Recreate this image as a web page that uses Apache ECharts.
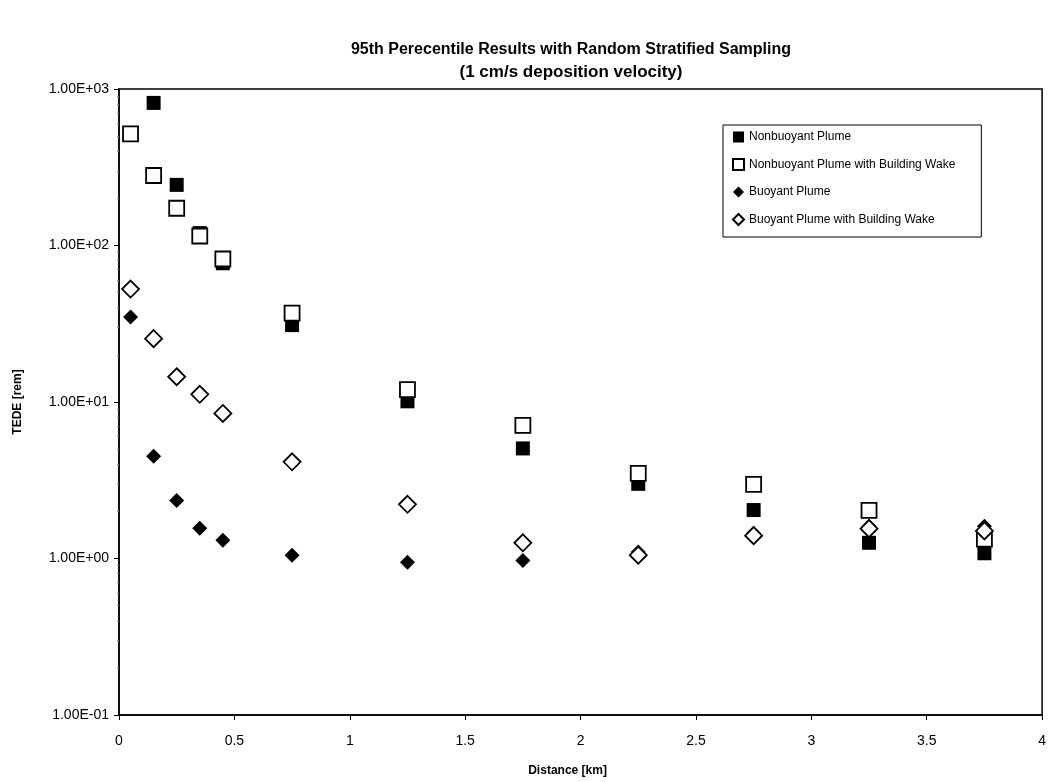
<!DOCTYPE html>
<html>
<head>
<meta charset="utf-8">
<script src="https://cdn.jsdelivr.net/npm/echarts@6/dist/echarts.min.js"></script>
<style>
html,body{margin:0;padding:0;background:#fff;}
#chart{width:1049px;height:782px;}
</style>
</head>
<body>
<div id="chart"></div>
<script>
// distances [km]
var distances = [0.05, 0.15, 0.25, 0.35, 0.45, 0.75, 1.25, 1.75, 2.25, 2.75, 3.25, 3.75];
// TEDE [rem] per series
var nonbuoyant      = [null, 815, 244, 120, 77, 31, 10.1, 5.05, 3.0, 2.04, 1.26, 1.08];
var nonbuoyantWake  = [516, 280, 173, 115, 82, 37, 12.0, 7.1, 3.5, 2.98, 2.03, 1.33];
var buoyant         = [34.9, 4.5, 2.35, 1.56, 1.31, 1.05, 0.946, 0.97, 1.1, 1.45, 1.61, 1.61];
var buoyantWake     = [52.7, 25.4, 14.5, 11.2, 8.45, 4.15, 2.22, 1.26, 1.05, 1.4, 1.55, 1.5];
var seriesNames = ['Nonbuoyant Plume', 'Nonbuoyant Plume with Building Wake', 'Buoyant Plume', 'Buoyant Plume with Building Wake'];

function pairs(vals){
	var out = [];
	for(var i=0;i<distances.length;i++){
		if(vals[i] != null) out.push([distances[i], vals[i]]);
	}
	return out;
}

// 1000 -> 1.00E+03
function expLabel(v){
	var e = Math.round(Math.log10(v));
	var m = v / Math.pow(10, e);
	var s = e < 0 ? '-' : '+';
	var a = Math.abs(e);
	return m.toFixed(2) + 'E' + s + (a < 10 ? '0' + a : a);
}

var font = 'Liberation Sans, Arial, sans-serif';
var myChart = echarts.init(document.getElementById('chart'));
var option = {
	backgroundColor: '#fff',
	animation: false,
	title: {
		text: '{a|95th Perecentile Results with Random Stratified Sampling}\n{b|(1 cm/s deposition velocity)}',
		left: 566,
		top: 34,
		textAlign: 'center',
		textStyle: {
			rich: {
				a: {fontFamily: font, fontSize: 16, fontWeight: 'bold', color: '#000', lineHeight: 22, align: 'center'},
				b: {fontFamily: font, fontSize: 17, fontWeight: 'bold', color: '#000', lineHeight: 22, align: 'center'}
			}
		}
	},
	legend: {
		orient: 'vertical',
		left: 723,
		top: 125,
		padding: [6, 26, 11, 9],
		itemGap: 15,
		itemWidth: 11,
		itemHeight: 11,
		borderColor: '#000',
		borderWidth: 1,
		textStyle: {fontFamily: font, fontSize: 12, color: '#000'},
		data: seriesNames
	},
	grid: {
		left: 119, right: 6, top: 89, bottom: 66,
		show: true, borderColor: '#000', borderWidth: 1.5
	},
	xAxis: {
		type: 'value',
		min: 0, max: 4, interval: 0.5,
		name: 'Distance [km]',
		nameLocation: 'middle',
		nameGap: 50,
		nameTextStyle: {fontFamily: font, fontSize: 12, fontWeight: 'bold', color: '#000', padding: [0, 26, 0, 0]},
		axisLine: {lineStyle: {color: '#000', width: 1.5}},
		axisTick: {show: true, length: 5, lineStyle: {color: '#000'}},
		axisLabel: {fontFamily: font, fontSize: 14, color: '#000', margin: 19},
		splitLine: {show: false}
	},
	yAxis: {
		type: 'log',
		logBase: 10,
		min: 0.1, max: 1000,
		name: 'TEDE [rem]',
		nameLocation: 'middle',
		nameGap: 95,
		nameRotate: 90,
		nameTextStyle: {fontFamily: font, fontSize: 12, fontWeight: 'bold', color: '#000'},
		axisLine: {show: true, lineStyle: {color: '#000', width: 1.5}},
		axisTick: {show: true, length: 5, lineStyle: {color: '#000'}},
		minorTick: {show: true, splitNumber: 9, length: 2, lineStyle: {color: '#888'}},
		axisLabel: {fontFamily: font, fontSize: 14, color: '#000', margin: 10, formatter: expLabel},
		splitLine: {show: false}
	},
	series: [
		{
			name: seriesNames[0], type: 'scatter', symbol: 'rect', symbolSize: 14,
			itemStyle: {color: '#000', opacity: 1}, data: pairs(nonbuoyant), z: 2
		},
		{
			name: seriesNames[1], type: 'scatter', symbol: 'rect', symbolSize: 15,
			itemStyle: {color: '#fff', borderColor: '#000', borderWidth: 1.8, opacity: 1}, data: pairs(nonbuoyantWake), z: 3
		},
		{
			name: seriesNames[2], type: 'scatter', symbol: 'diamond', symbolSize: [15, 15],
			itemStyle: {color: '#000', opacity: 1}, data: pairs(buoyant), z: 4
		},
		{
			name: seriesNames[3], type: 'scatter', symbol: 'diamond', symbolSize: [17, 17],
			itemStyle: {color: '#fff', borderColor: '#000', borderWidth: 1.8, opacity: 1}, data: pairs(buoyantWake), z: 5
		}
	]
};
myChart.setOption(option);
</script>
</body>
</html>
